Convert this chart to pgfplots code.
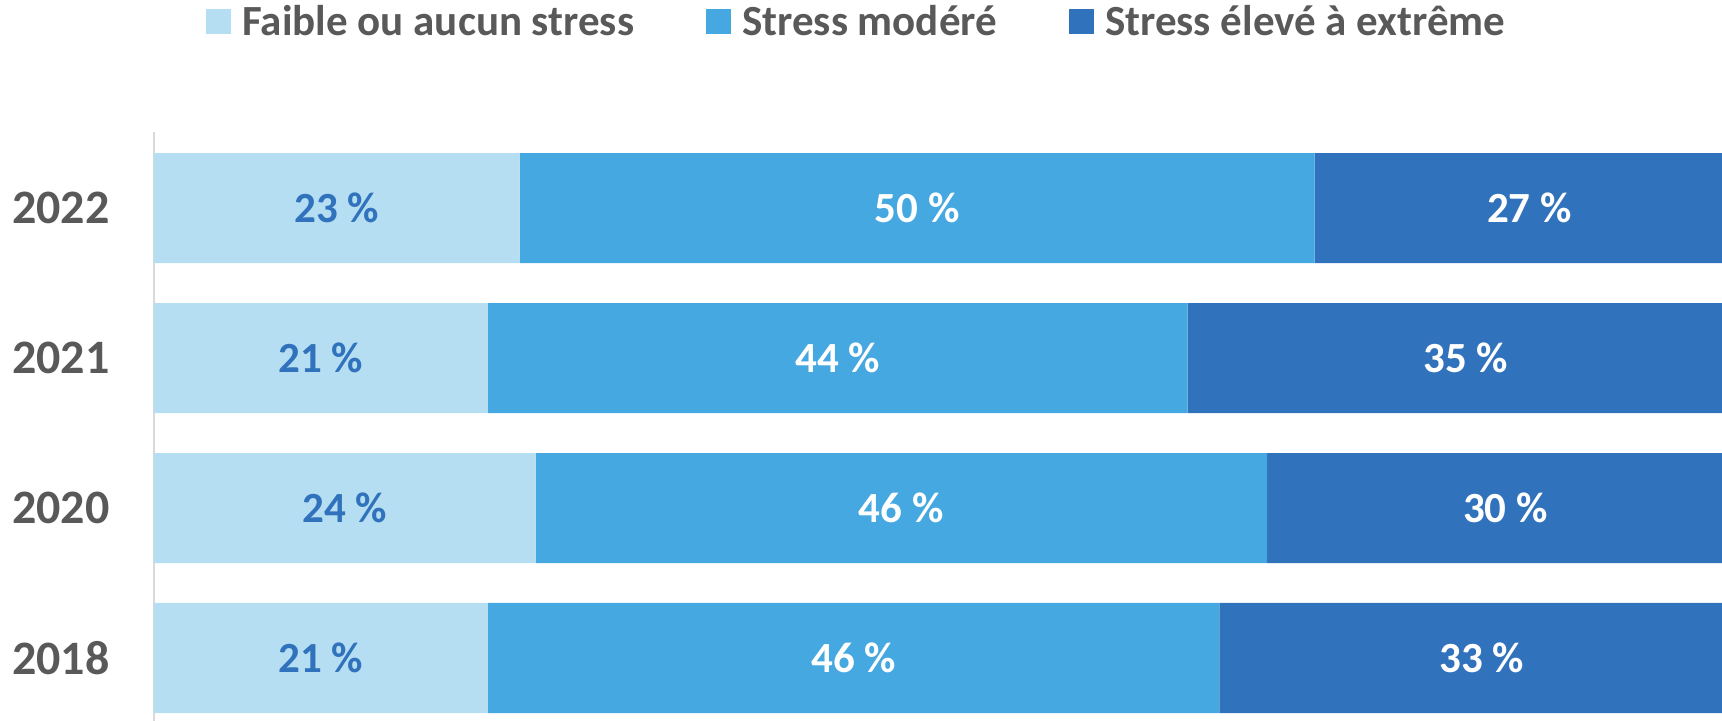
\documentclass[border=0pt]{standalone}
\usepackage{fontspec}
\setmainfont{Carlito}
\usepackage{pgfplots}
\usepackage{pgfplotstable}
\pgfplotsset{compat=1.18}
\definecolor{cLight}{HTML}{B5DEF3}
\definecolor{cMid}{HTML}{45A8E0}
\definecolor{cDark}{HTML}{3072BC}
\definecolor{cText}{HTML}{595959}
\definecolor{cAxis}{HTML}{D9D9D9}
% y = position (2022 top), v = share in %, c = centre of the segment
\pgfplotstableread{
y v c
3 23 11.5
2 21 10.5
1 24 12
0 21 10.5
}\low
\pgfplotstableread{
y v c
3 50 48
2 44 43
1 46 47
0 46 44
}\mid
\pgfplotstableread{
y v c
3 27 86.5
2 35 82.5
1 30 85
0 33 83.5
}\high
\pgfplotsset{
  geom/.style={scale only axis, width=795pt, height=294.5pt,
    xmin=0, xmax=100, ymin=-0.42, ymax=3.507},
  sqleg/.style={legend image code/.code={\fill[##1] (0pt,-6.25pt) rectangle (12.5pt,6.25pt);}},
  lab/.style={draw=none, mark=none, nodes near coords={\pgfplotspointmeta\ \%},
    point meta=explicit symbolic,
    every node near coord/.style={anchor=center, inner sep=0pt, text=#1,
      font=\fontsize{21.5}{26}\selectfont\bfseries}},
}
\begin{document}
\begin{tikzpicture}
\begin{axis}[
  geom,
  xbar stacked, bar width=55pt,
  axis x line=none, axis y line*=left,
  y axis line style={draw=cAxis, line width=1pt},
  ytick={0,1,2,3}, yticklabels={2018,2020,2021,2022},
  ytick style={draw=none},
  yticklabel style={font=\fontsize{24}{28}\selectfont\bfseries, text=cText, inner sep=0pt, xshift=-22pt},
  legend columns=3,
  legend style={at={(rel axis cs:0,1)}, anchor=west, xshift=26pt, yshift=55pt,
    draw=none, fill=none, inner sep=0pt,
    nodes={inner sep=0pt},
    font=\fontsize{21.5}{26}\selectfont\bfseries, text=cText,
    /tikz/every odd column/.append style={column sep=5.5pt},
    /tikz/every even column/.append style={column sep=36pt}},
]
\addplot[fill=cLight, draw=none, sqleg] table[x=v, y=y] {\low};
\addlegendentry{Faible ou aucun stress}
\addplot[fill=cMid, draw=none, sqleg] table[x=v, y=y] {\mid};
\addlegendentry{Stress modéré}
\addplot[fill=cDark, draw=none, sqleg] table[x=v, y=y] {\high};
\addlegendentry{Stress élevé à extrême}
\end{axis}
\begin{axis}[geom, hide axis]
\addplot[lab=cDark] table[x=c, y=y, meta=v] {\low};
\addplot[lab=white] table[x=c, y=y, meta=v] {\mid};
\addplot[lab=white] table[x=c, y=y, meta=v] {\high};
\end{axis}
\pgfresetboundingbox
\path[use as bounding box] (-77pt,0) rectangle (784pt,360.5pt);
\end{tikzpicture}
\end{document}
